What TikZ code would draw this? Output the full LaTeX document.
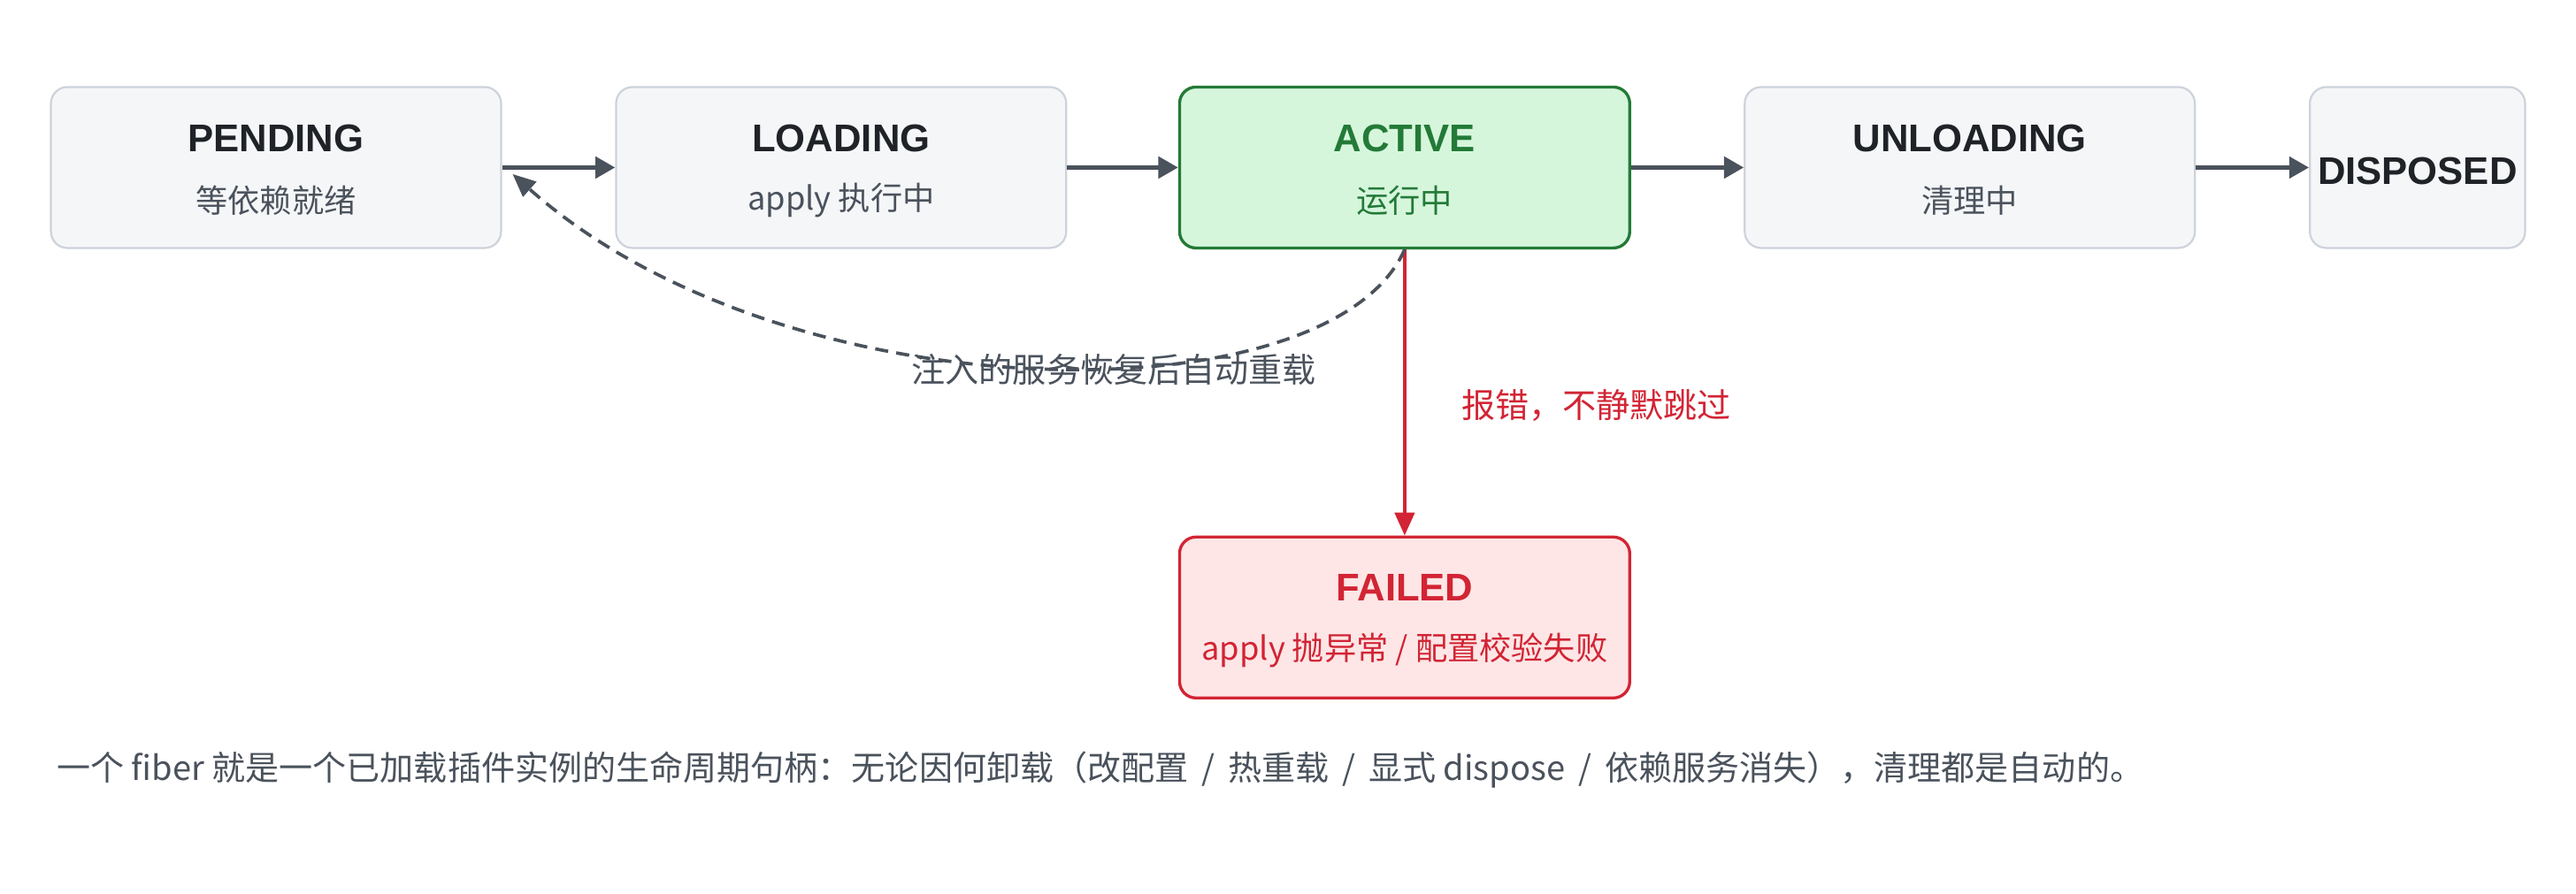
\documentclass[tikz,border=0pt]{standalone}
\usepackage{fontspec}
\setmainfont{Noto Sans CJK SC}
\newfontfamily\ttlfont{Liberation Sans}
\usetikzlibrary{arrows.meta}
\definecolor{gbord}{HTML}{CDD3DB}\definecolor{gfill}{HTML}{F5F6F8}
\definecolor{afill}{HTML}{D6F6DC}\definecolor{abord}{HTML}{237A37}
\definecolor{ffill}{HTML}{FEE6E6}\definecolor{fbord}{HTML}{D22434}
\definecolor{ink}{HTML}{1F2328}\definecolor{arr}{HTML}{4A525C}\definecolor{sub}{HTML}{4A525C}
\begin{document}
\begin{tikzpicture}[x=1pt,y=-1pt,
 box/.style={draw=gbord,fill=gfill,line width=1.2pt,rounded corners=10pt,minimum height=98pt,minimum width=274pt,align=center,text=ink},
 ttl/.style={font=\ttlfont\bfseries\fontsize{23.5}{26}\selectfont},
 sb/.style={font=\fontsize{19.5}{22}\selectfont},
 lb/.style={font=\fontsize{20.5}{23}\selectfont},
 conn/.style={draw=arr,line width=2.5pt,-{Triangle[length=12pt,width=13pt]}}]
\useasboundingbox (0,0) rectangle (1568,544);
\node[box] (pend) at (168,102) {};
\node[ttl,text=ink] at (168,84) {PENDING};\node[sb,text=sub] at (168,122) {等依赖就绪};
\node[box] (load) at (512,102) {};
\node[ttl,text=ink] at (512,84) {LOADING};\node[sb,text=sub] at (512,122) {apply 执行中};
\node[box,fill=afill,draw=abord,line width=1.8pt] (act) at (855,102) {};
\node[ttl,text=abord] at (855,84) {ACTIVE};\node[sb,text=abord] at (855,122) {运行中};
\node[box] (unl) at (1199,102) {};
\node[ttl,text=ink] at (1199,84) {UNLOADING};\node[sb,text=sub] at (1199,122) {清理中};
\node[box,minimum width=131pt] (disp) at (1471.5,102) {};
\node[ttl,text=ink] at (1471.5,104) {DISPOSED};
\node[box,fill=ffill,draw=fbord,line width=1.8pt] (fail) at (855,376) {};
\node[ttl,text=fbord] at (855,358) {FAILED};\node[sb,text=fbord] at (855,396) {apply 抛异常 / 配置校验失败};
\draw[conn] (pend.east) -- (load.west);
\draw[conn] (load.east) -- (act.west);
\draw[conn] (act.east) -- (unl.west);
\draw[conn] (unl.east) -- (disp.west);
\draw[draw=fbord,line width=2pt,-{Triangle[length=14pt,width=12pt]}] (act.south) -- (fail.north);
\node[lb,text=fbord,anchor=west] (lf) at (886,247) {报错，不静默跳过};
\coordinate (dend) at (312,106);
\draw[draw=arr,line width=2pt,dash pattern=on 8pt off 5pt,-{Triangle[length=14pt,width=12pt]}] (act.south) .. controls (810,255) and (480,255) .. (dend);
\node[lb,text=sub] (ld) at (678,225) {注入的服务恢复后自动重载};
\node[lb,text=sub,anchor=west] (foot) at (31,469) {一个 fiber 就是一个已加载插件实例的生命周期句柄：无论因何卸载（改配置 \,/\, 热重载 \,/\, 显式 dispose \,/\, 依赖服务消失），清理都是自动的。};
\end{tikzpicture}
\end{document}
